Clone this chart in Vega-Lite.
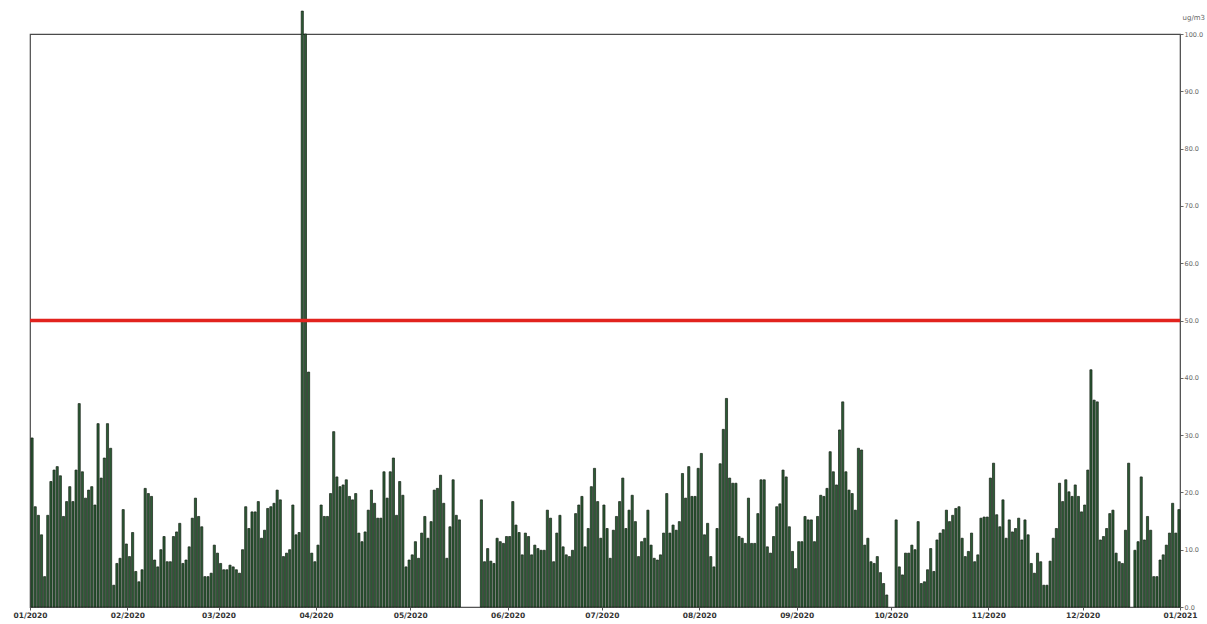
{
  "$schema": "https://vega.github.io/schema/vega-lite/v6.json",
  "width": 1150,
  "height": 573,
  "autosize": {"type": "none"},
  "padding": {"left": 30, "top": 34, "right": 27, "bottom": 17},
  "background": "white",
  "config": {"view": {"stroke": "#4a4a4a", "strokeWidth": 1.2}},
  "datasets": {
    "daily": [
      {"date":"2020-01-01","pm":29.5},{"date":"2020-01-02","pm":17.5},{"date":"2020-01-03","pm":16},{"date":"2020-01-04","pm":12.6},{"date":"2020-01-05","pm":5.3},{"date":"2020-01-06","pm":16},{"date":"2020-01-07","pm":21.9},{"date":"2020-01-08","pm":23.9},{"date":"2020-01-09","pm":24.5},{"date":"2020-01-10","pm":22.9},{"date":"2020-01-11","pm":15.8},{"date":"2020-01-12","pm":18.4},{"date":"2020-01-13","pm":21},{"date":"2020-01-14","pm":18.4},{"date":"2020-01-15","pm":23.9},{"date":"2020-01-16","pm":35.5},{"date":"2020-01-17","pm":23.6},{"date":"2020-01-18","pm":19},{"date":"2020-01-19","pm":20.4},{"date":"2020-01-20","pm":21},{"date":"2020-01-21","pm":17.8},{"date":"2020-01-22","pm":32},{"date":"2020-01-23","pm":22.5},{"date":"2020-01-24","pm":26},{"date":"2020-01-25","pm":32},{"date":"2020-01-26","pm":27.7},{"date":"2020-01-27","pm":3.8},{"date":"2020-01-28","pm":7.6},{"date":"2020-01-29","pm":8.5},{"date":"2020-01-30","pm":17},{"date":"2020-01-31","pm":11},
      {"date":"2020-02-01","pm":8.8},{"date":"2020-02-02","pm":13},{"date":"2020-02-03","pm":6.2},{"date":"2020-02-04","pm":4.4},{"date":"2020-02-05","pm":6.5},{"date":"2020-02-06","pm":20.7},{"date":"2020-02-07","pm":19.8},{"date":"2020-02-08","pm":19.3},{"date":"2020-02-09","pm":8.2},{"date":"2020-02-10","pm":7},{"date":"2020-02-11","pm":10},{"date":"2020-02-12","pm":12.3},{"date":"2020-02-13","pm":7.9},{"date":"2020-02-14","pm":7.9},{"date":"2020-02-15","pm":12.3},{"date":"2020-02-16","pm":13.1},{"date":"2020-02-17","pm":14.6},{"date":"2020-02-18","pm":7.6},{"date":"2020-02-19","pm":8.2},{"date":"2020-02-20","pm":10.5},{"date":"2020-02-21","pm":15.5},{"date":"2020-02-22","pm":19},{"date":"2020-02-23","pm":15.8},{"date":"2020-02-24","pm":14},{"date":"2020-02-25","pm":5.3},{"date":"2020-02-26","pm":5.3},{"date":"2020-02-27","pm":5.9},{"date":"2020-02-28","pm":10.8},{"date":"2020-02-29","pm":9.4},
      {"date":"2020-03-01","pm":7.6},{"date":"2020-03-02","pm":6.5},{"date":"2020-03-03","pm":6.5},{"date":"2020-03-04","pm":7.3},{"date":"2020-03-05","pm":7},{"date":"2020-03-06","pm":6.5},{"date":"2020-03-07","pm":5.9},{"date":"2020-03-08","pm":10},{"date":"2020-03-09","pm":17.5},{"date":"2020-03-10","pm":13.7},{"date":"2020-03-11","pm":16.6},{"date":"2020-03-12","pm":16.6},{"date":"2020-03-13","pm":18.4},{"date":"2020-03-14","pm":12},{"date":"2020-03-15","pm":13.4},{"date":"2020-03-16","pm":17.2},{"date":"2020-03-17","pm":17.5},{"date":"2020-03-18","pm":18.1},{"date":"2020-03-19","pm":20.4},{"date":"2020-03-20","pm":18.7},{"date":"2020-03-21","pm":8.8},{"date":"2020-03-22","pm":9.4},{"date":"2020-03-23","pm":10},{"date":"2020-03-24","pm":17.8},{"date":"2020-03-25","pm":12.6},{"date":"2020-03-26","pm":13},{"date":"2020-03-27","pm":104},{"date":"2020-03-28","pm":100},{"date":"2020-03-29","pm":41},{"date":"2020-03-30","pm":9.4},{"date":"2020-03-31","pm":7.9},
      {"date":"2020-04-01","pm":10.8},{"date":"2020-04-02","pm":17.8},{"date":"2020-04-03","pm":15.8},{"date":"2020-04-04","pm":15.8},{"date":"2020-04-05","pm":19.8},{"date":"2020-04-06","pm":30.6},{"date":"2020-04-07","pm":22.7},{"date":"2020-04-08","pm":21},{"date":"2020-04-09","pm":21.3},{"date":"2020-04-10","pm":22.2},{"date":"2020-04-11","pm":19.3},{"date":"2020-04-12","pm":18.7},{"date":"2020-04-13","pm":19.8},{"date":"2020-04-14","pm":12.9},{"date":"2020-04-15","pm":11.4},{"date":"2020-04-16","pm":13.1},{"date":"2020-04-17","pm":16.9},{"date":"2020-04-18","pm":20.4},{"date":"2020-04-19","pm":18.1},{"date":"2020-04-20","pm":15.5},{"date":"2020-04-21","pm":15.5},{"date":"2020-04-22","pm":23.6},{"date":"2020-04-23","pm":19},{"date":"2020-04-24","pm":23.6},{"date":"2020-04-25","pm":26},{"date":"2020-04-26","pm":16},{"date":"2020-04-27","pm":21.9},{"date":"2020-04-28","pm":19.5},{"date":"2020-04-29","pm":7},{"date":"2020-04-30","pm":8.2},
      {"date":"2020-05-01","pm":9.1},{"date":"2020-05-02","pm":11.4},{"date":"2020-05-03","pm":8.5},{"date":"2020-05-04","pm":12.9},{"date":"2020-05-05","pm":15.8},{"date":"2020-05-06","pm":12},{"date":"2020-05-07","pm":14.9},{"date":"2020-05-08","pm":20.4},{"date":"2020-05-09","pm":20.7},{"date":"2020-05-10","pm":23},{"date":"2020-05-11","pm":18.1},{"date":"2020-05-12","pm":8.5},{"date":"2020-05-13","pm":14},{"date":"2020-05-14","pm":22.2},{"date":"2020-05-15","pm":16},{"date":"2020-05-16","pm":15.2},{"date":"2020-05-23","pm":18.7},{"date":"2020-05-24","pm":7.9},{"date":"2020-05-25","pm":10.2},{"date":"2020-05-26","pm":8},{"date":"2020-05-27","pm":7.6},{"date":"2020-05-28","pm":12},{"date":"2020-05-29","pm":11.4},{"date":"2020-05-30","pm":11.1},{"date":"2020-05-31","pm":12.3},
      {"date":"2020-06-01","pm":12.3},{"date":"2020-06-02","pm":18.4},{"date":"2020-06-03","pm":14.3},{"date":"2020-06-04","pm":13},{"date":"2020-06-05","pm":9.1},{"date":"2020-06-06","pm":12.9},{"date":"2020-06-07","pm":12.3},{"date":"2020-06-08","pm":9.1},{"date":"2020-06-09","pm":10.8},{"date":"2020-06-10","pm":10.2},{"date":"2020-06-11","pm":9.9},{"date":"2020-06-12","pm":9.9},{"date":"2020-06-13","pm":16.9},{"date":"2020-06-14","pm":15.5},{"date":"2020-06-15","pm":7.9},{"date":"2020-06-16","pm":12.9},{"date":"2020-06-17","pm":16},{"date":"2020-06-18","pm":10.5},{"date":"2020-06-19","pm":9.1},{"date":"2020-06-20","pm":8.8},{"date":"2020-06-21","pm":9.9},{"date":"2020-06-22","pm":16.3},{"date":"2020-06-23","pm":17.8},{"date":"2020-06-24","pm":19.3},{"date":"2020-06-25","pm":10.5},{"date":"2020-06-26","pm":13.7},{"date":"2020-06-27","pm":21},{"date":"2020-06-28","pm":24.2},{"date":"2020-06-29","pm":18.4},{"date":"2020-06-30","pm":12},
      {"date":"2020-07-01","pm":17.8},{"date":"2020-07-02","pm":13.7},{"date":"2020-07-03","pm":8.5},{"date":"2020-07-04","pm":13.4},{"date":"2020-07-05","pm":15.8},{"date":"2020-07-06","pm":18.4},{"date":"2020-07-07","pm":22.5},{"date":"2020-07-08","pm":13.7},{"date":"2020-07-09","pm":16.9},{"date":"2020-07-10","pm":19.5},{"date":"2020-07-11","pm":14.9},{"date":"2020-07-12","pm":8.8},{"date":"2020-07-13","pm":11.4},{"date":"2020-07-14","pm":12},{"date":"2020-07-15","pm":16.9},{"date":"2020-07-16","pm":10.8},{"date":"2020-07-17","pm":8.5},{"date":"2020-07-18","pm":8.2},{"date":"2020-07-19","pm":9.1},{"date":"2020-07-20","pm":12.9},{"date":"2020-07-21","pm":19.8},{"date":"2020-07-22","pm":12.9},{"date":"2020-07-23","pm":14.3},{"date":"2020-07-24","pm":13.4},{"date":"2020-07-25","pm":14.9},{"date":"2020-07-26","pm":23.3},{"date":"2020-07-27","pm":19},{"date":"2020-07-28","pm":24.5},{"date":"2020-07-29","pm":19.3},{"date":"2020-07-30","pm":19.3},{"date":"2020-07-31","pm":24.2},
      {"date":"2020-08-01","pm":26.8},{"date":"2020-08-02","pm":12.6},{"date":"2020-08-03","pm":14.6},{"date":"2020-08-04","pm":8.8},{"date":"2020-08-05","pm":7},{"date":"2020-08-06","pm":13.7},{"date":"2020-08-07","pm":25},{"date":"2020-08-08","pm":31},{"date":"2020-08-09","pm":36.4},{"date":"2020-08-10","pm":22.5},{"date":"2020-08-11","pm":21.6},{"date":"2020-08-12","pm":21.6},{"date":"2020-08-13","pm":12.3},{"date":"2020-08-14","pm":12},{"date":"2020-08-15","pm":11.1},{"date":"2020-08-16","pm":19},{"date":"2020-08-17","pm":11.1},{"date":"2020-08-18","pm":11.1},{"date":"2020-08-19","pm":16.3},{"date":"2020-08-20","pm":22.2},{"date":"2020-08-21","pm":22.2},{"date":"2020-08-22","pm":10.5},{"date":"2020-08-23","pm":9.4},{"date":"2020-08-24","pm":12.3},{"date":"2020-08-25","pm":17.5},{"date":"2020-08-26","pm":18},{"date":"2020-08-27","pm":23.9},{"date":"2020-08-28","pm":22.7},{"date":"2020-08-29","pm":14},{"date":"2020-08-30","pm":9.7},{"date":"2020-08-31","pm":6.7},
      {"date":"2020-09-01","pm":11.4},{"date":"2020-09-02","pm":11.4},{"date":"2020-09-03","pm":15.8},{"date":"2020-09-04","pm":15.2},{"date":"2020-09-05","pm":15.2},{"date":"2020-09-06","pm":11.4},{"date":"2020-09-07","pm":15.8},{"date":"2020-09-08","pm":19.5},{"date":"2020-09-09","pm":19.3},{"date":"2020-09-10","pm":20.7},{"date":"2020-09-11","pm":27.1},{"date":"2020-09-12","pm":23.6},{"date":"2020-09-13","pm":21.3},{"date":"2020-09-14","pm":30.9},{"date":"2020-09-15","pm":35.8},{"date":"2020-09-16","pm":23.6},{"date":"2020-09-17","pm":20.4},{"date":"2020-09-18","pm":19.8},{"date":"2020-09-19","pm":16.9},{"date":"2020-09-20","pm":27.7},{"date":"2020-09-21","pm":27.4},{"date":"2020-09-22","pm":10.8},{"date":"2020-09-23","pm":12},{"date":"2020-09-24","pm":7.9},{"date":"2020-09-25","pm":7.6},{"date":"2020-09-26","pm":8.8},{"date":"2020-09-27","pm":6},{"date":"2020-09-28","pm":4.1},{"date":"2020-09-29","pm":2.1},
      {"date":"2020-10-02","pm":15.2},{"date":"2020-10-03","pm":7},{"date":"2020-10-04","pm":5.6},{"date":"2020-10-05","pm":9.4},{"date":"2020-10-06","pm":9.4},{"date":"2020-10-07","pm":10.8},{"date":"2020-10-08","pm":10},{"date":"2020-10-09","pm":14.9},{"date":"2020-10-10","pm":4.1},{"date":"2020-10-11","pm":4.4},{"date":"2020-10-12","pm":6.5},{"date":"2020-10-13","pm":10.2},{"date":"2020-10-14","pm":6.2},{"date":"2020-10-15","pm":11.7},{"date":"2020-10-16","pm":12.9},{"date":"2020-10-17","pm":13.5},{"date":"2020-10-18","pm":16.9},{"date":"2020-10-19","pm":14.9},{"date":"2020-10-20","pm":16},{"date":"2020-10-21","pm":17.2},{"date":"2020-10-22","pm":17.5},{"date":"2020-10-23","pm":12},{"date":"2020-10-24","pm":8.8},{"date":"2020-10-25","pm":9.7},{"date":"2020-10-26","pm":12.9},{"date":"2020-10-27","pm":7.9},{"date":"2020-10-28","pm":9.1},{"date":"2020-10-29","pm":15.5},{"date":"2020-10-30","pm":15.7},{"date":"2020-10-31","pm":15.7},
      {"date":"2020-11-01","pm":22.5},{"date":"2020-11-02","pm":25.1},{"date":"2020-11-03","pm":16.1},{"date":"2020-11-04","pm":14},{"date":"2020-11-05","pm":18.7},{"date":"2020-11-06","pm":12},{"date":"2020-11-07","pm":15.2},{"date":"2020-11-08","pm":13.1},{"date":"2020-11-09","pm":13.7},{"date":"2020-11-10","pm":15.5},{"date":"2020-11-11","pm":11.7},{"date":"2020-11-12","pm":15.2},{"date":"2020-11-13","pm":12.6},{"date":"2020-11-14","pm":7.6},{"date":"2020-11-15","pm":5.9},{"date":"2020-11-16","pm":9.4},{"date":"2020-11-17","pm":7.9},{"date":"2020-11-18","pm":3.8},{"date":"2020-11-19","pm":3.8},{"date":"2020-11-20","pm":8},{"date":"2020-11-21","pm":12},{"date":"2020-11-22","pm":13.7},{"date":"2020-11-23","pm":21.6},{"date":"2020-11-24","pm":18.4},{"date":"2020-11-25","pm":22.2},{"date":"2020-11-26","pm":20.1},{"date":"2020-11-27","pm":19.3},{"date":"2020-11-28","pm":21.3},{"date":"2020-11-29","pm":19.3},{"date":"2020-11-30","pm":16.6},
      {"date":"2020-12-01","pm":17.8},{"date":"2020-12-02","pm":23.9},{"date":"2020-12-03","pm":41.4},{"date":"2020-12-04","pm":36.1},{"date":"2020-12-05","pm":35.8},{"date":"2020-12-06","pm":11.7},{"date":"2020-12-07","pm":12.3},{"date":"2020-12-08","pm":13.7},{"date":"2020-12-09","pm":16.3},{"date":"2020-12-10","pm":16.9},{"date":"2020-12-11","pm":9.4},{"date":"2020-12-12","pm":7.9},{"date":"2020-12-13","pm":7.6},{"date":"2020-12-14","pm":13.4},{"date":"2020-12-15","pm":25.1},{"date":"2020-12-17","pm":9.9},{"date":"2020-12-18","pm":11.4},{"date":"2020-12-19","pm":22.7},{"date":"2020-12-20","pm":11.7},{"date":"2020-12-21","pm":15.8},{"date":"2020-12-22","pm":13.4},{"date":"2020-12-23","pm":5.3},{"date":"2020-12-24","pm":5.3},{"date":"2020-12-25","pm":8.2},{"date":"2020-12-26","pm":9.1},{"date":"2020-12-27","pm":10.8},{"date":"2020-12-28","pm":12.9},{"date":"2020-12-29","pm":18.1},{"date":"2020-12-30","pm":12.9},{"date":"2020-12-31","pm":17}
    ],
    "limit": [{"threshold": 50}]
  },
  "layer": [
    {
      "data": {"name": "daily"},
      "mark": {"type": "bar", "fill": "#2c5c35", "stroke": "#161f16", "strokeWidth": 0.7, "clip": false},
      "encoding": {
        "x": {
          "field": "date", "type": "temporal", "timeUnit": "utcyearmonthdate",
          "scale": {"domain": [{"year": 2020, "month": 1, "date": 1, "utc": true}, {"year": 2021, "month": 1, "date": 1, "utc": true}]},
          "axis": {
            "title": null, "format": "%m/%Y", "tickCount": {"interval": "month", "step": 1},
            "labelFontSize": 7.5, "labelFont": "DejaVu Sans", "labelFontWeight": "bold", "labelColor": "#333",
            "labelFlush": false, "labelOverlap": false, "labelPadding": 1,
            "tickSize": 3, "tickColor": "#555", "domainColor": "#555",
            "grid": false
          }
        },
        "y": {
          "field": "pm", "type": "quantitative",
          "scale": {"domain": [0, 100], "nice": false},
          "axis": {
            "orient": "right", "values": [0, 10, 20, 30, 40, 50, 60, 70, 80, 90, 100], "format": ".1f",
            "labelFontSize": 6.5, "labelFont": "DejaVu Sans", "labelColor": "#666", "labelPadding": 1,
            "tickSize": 3, "tickColor": "#666", "domainColor": "#555", "grid": false,
            "title": "ug/m3", "titleAngle": 0, "titleAlign": "left", "titleBaseline": "bottom",
            "titleX": 2, "titleY": -14, "titleFontSize": 7, "titleFontWeight": "normal", "titleColor": "#666", "titleFont": "DejaVu Sans"
          }
        }
      }
    },
    {
      "data": {"name": "limit"},
      "mark": {"type": "rule", "color": "#e2231e", "strokeWidth": 3.5},
      "encoding": {"y": {"field": "threshold", "type": "quantitative"}}
    }
  ]
}
